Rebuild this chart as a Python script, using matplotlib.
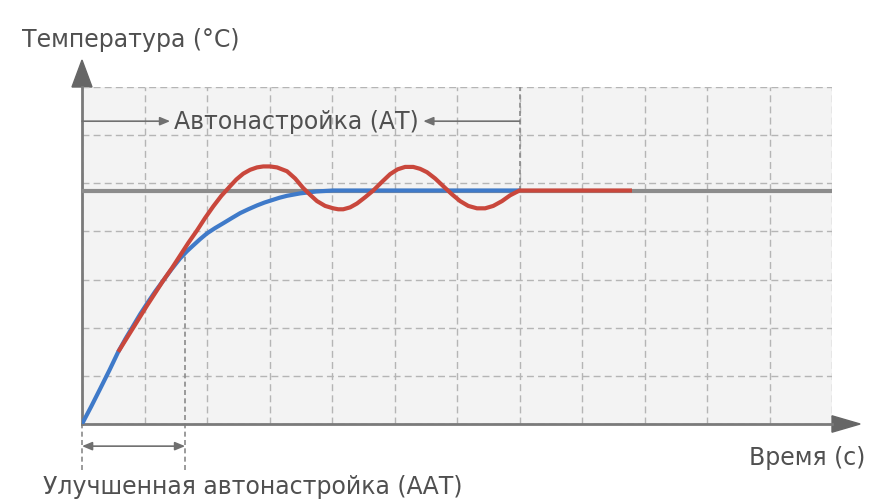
import matplotlib
matplotlib.use('Agg')
import matplotlib.pyplot as plt
from matplotlib.patches import Polygon

# values, in grid units (x: 0..12, y: 0..7)
setpoint = 4.85
aat_end = 1.65
at_end = 7.0

blue_t = [0, 0.15, 0.29, 0.44, 0.58, 0.7, 0.82, 0.93, 1.04, 1.17, 1.30, 1.43,
          1.57, 1.68, 1.78, 1.89, 2.0, 2.13, 2.26, 2.4, 2.53, 2.66, 2.8, 2.92,
          3.04, 3.16, 3.28, 3.49, 3.75, 4.02, 7.0]
blue_y = [0, 0.37, 0.73, 1.12, 1.5, 1.78, 2.04, 2.28, 2.5, 2.75, 2.98, 3.21,
          3.44, 3.59, 3.71, 3.84, 3.96, 4.07, 4.17, 4.28, 4.38, 4.46, 4.54, 4.6,
          4.65, 4.7, 4.74, 4.79, 4.83, 4.85, 4.85]

red_t = [0.58, 0.82, 1.04, 1.17, 1.30, 1.44, 1.57, 1.7, 1.84, 1.97, 2.10, 2.23,
         2.37, 2.47, 2.58, 2.69, 2.8, 2.9, 3.01, 3.12, 3.28, 3.41, 3.54, 3.65,
         3.76, 3.89, 4.02, 4.1, 4.18, 4.29, 4.4, 4.53, 4.66, 4.8, 4.93, 5.05,
         5.17, 5.3, 5.41, 5.52, 5.65, 5.78, 5.92, 6.05, 6.18, 6.32, 6.45, 6.58,
         6.72, 6.85, 7.0, 8.8]
red_y = [1.5, 2.0, 2.46, 2.72, 2.98, 3.24, 3.5, 3.76, 4.02, 4.28, 4.52, 4.74,
         4.94, 5.08, 5.2, 5.28, 5.33, 5.35, 5.35, 5.33, 5.25, 5.1, 4.9, 4.76,
         4.63, 4.53, 4.48, 4.46, 4.46, 4.5, 4.58, 4.71, 4.85, 5.03, 5.19, 5.29,
         5.34, 5.34, 5.3, 5.23, 5.1, 4.94, 4.77, 4.63, 4.53, 4.48, 4.48, 4.53,
         4.63, 4.75, 4.85, 4.85]

title_y = 'Температура (°C)'
title_x = 'Время (с)'
label_at = 'Автонастройка (АТ)'
label_aat = 'Улучшенная автонастройка (ААТ)'

txt = '#505050'
axc = '#7a7a7a'
fs = 17

fig = plt.figure(figsize=(8.71, 5.02), dpi=100)
ax = fig.add_axes([82 / 871, 77 / 502, 750 / 871, 337 / 502])
ax.set_facecolor('#f3f3f3')
ax.set_xlim(0, 12)
ax.set_ylim(0, 7)
ax.set_xticks(range(13))
ax.set_yticks(range(8))
ax.tick_params(length=0, labelbottom=False, labelleft=False)
ax.grid(True, color='#b5b5b5', linestyle=(0, (5, 3)), linewidth=1)
for s in ['top', 'right']:
    ax.spines[s].set_visible(False)
for s in ['left', 'bottom']:
    ax.spines[s].set_color(axc)
    ax.spines[s].set_linewidth(2)

# axis arrow heads
ax.add_patch(Polygon([[-0.16, 7.0], [0.16, 7.0], [0, 7.56]], closed=True,
                     color='#666666', clip_on=False))
ax.add_patch(Polygon([[12.0, 0.17], [12.0, -0.17], [12.45, 0]], closed=True,
                     color='#666666', clip_on=False))

# curves
ax.plot([0, 12], [setpoint, setpoint], color='#8c8c8c', lw=3, zorder=3)
ax.plot(blue_t, blue_y, color='#3f7ac9', lw=3, zorder=4,
        solid_capstyle='butt', solid_joinstyle='round')
ax.plot(red_t, red_y, color='#c9473c', lw=3, zorder=5,
        solid_capstyle='butt', solid_joinstyle='round')

# marker lines
ax.plot([aat_end, aat_end], [-0.95, 3.55], color='#8a8a8a', lw=1.2,
        linestyle=(0, (3, 2)), clip_on=False, zorder=2)
ax.plot([0, 0], [-0.95, 0], color='#8a8a8a', lw=1.2,
        linestyle=(0, (3, 2)), clip_on=False, zorder=2)
ax.plot([at_end, at_end], [setpoint, 7], color='#8a8a8a', lw=1.2,
        linestyle=(0, (3, 2)), zorder=2)

# AT arrows
ap = dict(arrowstyle='-|>,head_length=0.6,head_width=0.25', color='#707070',
          lw=1.2, shrinkA=0, shrinkB=0)
ax.annotate('', xy=(1.41, 6.29), xytext=(0, 6.29), arrowprops=ap)
ax.annotate('', xy=(5.46, 6.29), xytext=(at_end, 6.29), arrowprops=ap)
ax.text(3.43, 6.29, label_at, color=txt, fontsize=fs, ha='center', va='center')

# AAT arrow
ap2 = dict(arrowstyle='<|-|>,head_length=0.6,head_width=0.25', color='#707070',
           lw=1.2, shrinkA=0, shrinkB=0)
ax.annotate('', xy=(aat_end, -0.46), xytext=(0, -0.46), arrowprops=ap2,
            annotation_clip=False)

fig.text(253 / 871, 1 - 487 / 502, label_aat, color=txt, fontsize=fs,
         ha='center', va='center')
fig.text(22 / 871, 1 - 40 / 502, title_y, color=txt, fontsize=fs,
         ha='left', va='center')
fig.text(865 / 871, 1 - 458 / 502, title_x, color=txt, fontsize=fs,
         ha='right', va='center')

fig.savefig('out.png', dpi=100, facecolor='white')
